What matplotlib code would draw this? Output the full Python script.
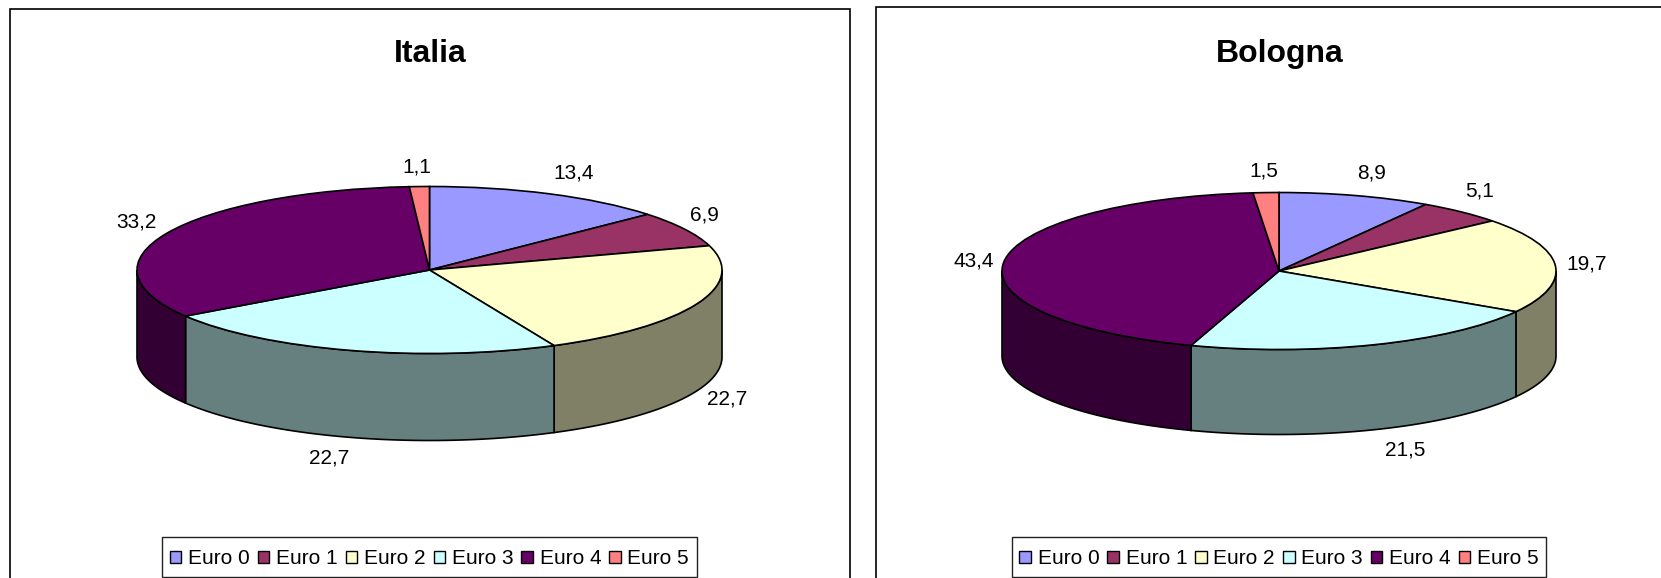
import numpy as np
import matplotlib
matplotlib.use("Agg")
import matplotlib.pyplot as plt
from matplotlib.patches import Patch, Rectangle

plt.rcParams['font.family'] = ['Liberation Sans', 'DejaVu Sans']

W, H = 1661, 578

# data
categories = ["Euro 0", "Euro 1", "Euro 2", "Euro 3", "Euro 4", "Euro 5"]
italia_values = [13.4, 6.9, 22.7, 22.7, 33.2, 1.1]
bologna_values = [8.9, 5.1, 19.7, 21.5, 43.4, 1.5]

# styles
top_colors = ["#9999FF", "#993366", "#FFFFCC", "#CCFFFF", "#660066", "#FF8080"]
side_colors = ["#4D4D80", "#4D1A33", "#808066", "#668080", "#330033", "#804040"]

# label nudges in pixels, from the rim of each slice
italia_offsets = [(25, 21), (20, 14), (30, -8), (-21, -21), (-31, 11), (-3, 20)]
bologna_offsets = [(16, 23), (18, 21), (31, 1), (31, -20), (-30, 1), (-2, 22)]


def draw_pie(title, values, offsets, cx, cy, rx, ry, depth, frame, legend_box):
    # frame, runs off the bottom (and maybe right) of the picture
    x0, y0, x1 = frame
    fig.add_artist(Rectangle((x0 / W, 1 - (H + 20) / H), (x1 - x0) / W, (H + 20 - y0) / H,
                             transform=fig.transFigure, fill=False, edgecolor="black", linewidth=1.2))

    pad = 6
    ax = fig.add_axes([(cx - rx - pad) / W, 1 - (cy + ry + depth + pad) / H,
                       (2 * rx + 2 * pad) / W, (2 * ry + depth + 2 * pad) / H])
    ax.pie(values, colors=top_colors, startangle=90, counterclock=False,
           wedgeprops=dict(edgecolor="black", linewidth=1.2, zorder=3))
    ax.set_aspect("auto")
    d = depth / ry
    ax.set_xlim(-1 - pad / rx, 1 + pad / rx)
    ax.set_ylim(-1 - d - pad / ry, 1 + pad / ry)
    ax.axis("off")

    # side walls, only the front half of the disc shows
    edges = np.cumsum([0] + list(values)) / sum(values) * 360
    for i, col in enumerate(side_colors):
        a0, a1 = max(edges[i], 90), min(edges[i + 1], 270)
        if a1 <= a0:
            continue
        a = np.radians(np.linspace(a0, a1, 80))
        xs = np.sin(a)
        ys = np.cos(a)
        ax.fill(np.r_[xs, xs[::-1]], np.r_[ys, ys[::-1] - d], facecolor=col,
                edgecolor="black", linewidth=1.2, zorder=2)

    # value labels
    for i, v in enumerate(values):
        mid = np.radians((edges[i] + edges[i + 1]) / 2)
        px = np.sin(mid)
        py = np.cos(mid)
        if py < 0:
            py = py - d
        ax.annotate(str(v).replace(".", ","), xy=(px, py), xytext=offsets[i],
                    textcoords="offset pixels", ha="center", va="center",
                    fontsize=15, color="black", annotation_clip=False)

    fig.text(cx / W + 1 / W, 1 - 54 / H, title, ha="center", va="center",
             fontsize=23, fontweight="bold", color="black")

    # legend box is drawn apart so it can run to the picture's bottom edge
    lx0, ly0, lx1, ly1 = legend_box
    fig.add_artist(Rectangle((lx0 / W, 1 - ly1 / H), (lx1 - lx0) / W, (ly1 - ly0) / H,
                             transform=fig.transFigure, facecolor="white", edgecolor="#222222",
                             linewidth=1.0, zorder=5))
    handles = [Patch(facecolor=c, edgecolor="black", linewidth=1.0) for c in top_colors]
    leg = fig.legend(handles, categories, ncol=6, loc="center",
                     bbox_to_anchor=((lx0 + lx1) / 2 / W, 1 - ((ly0 + ly1) / 2 + 2) / H),
                     fontsize=15, frameon=False, handlelength=0.55, handleheight=0.55,
                     handletextpad=0.32, columnspacing=0.39, borderpad=0,
                     borderaxespad=0, labelspacing=0)
    leg.set_zorder(6)


fig = plt.figure(figsize=(W / 100, H / 100), dpi=100, facecolor="white")

draw_pie("Italia", italia_values, italia_offsets, 429.5, 270, 292.5, 83.5, 87,
         (10, 9, 850), (162, 537, 697, 577))
draw_pie("Bologna", bologna_values, bologna_offsets, 1279, 271, 277, 78.5, 85,
         (876, 7, 1680), (1012, 537, 1546, 577))

fig.savefig("out.png", dpi=100)
